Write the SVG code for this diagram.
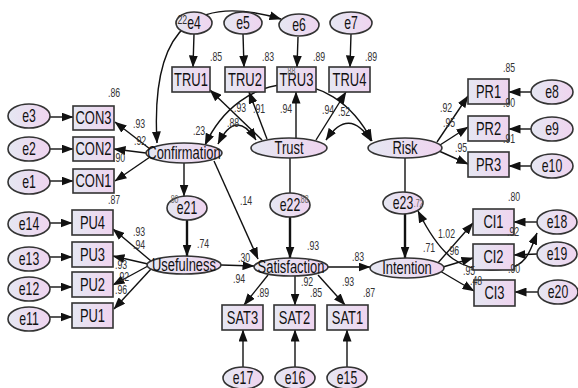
<svg xmlns="http://www.w3.org/2000/svg" width="578" height="388" viewBox="0 0 578 388">
<defs>
<linearGradient id="g" x1="0" y1="0" x2="1" y2="0"><stop offset="0" stop-color="#e5e7f2"/><stop offset="1" stop-color="#efd4ef"/></linearGradient>
<marker id="a" markerUnits="userSpaceOnUse" markerWidth="12" markerHeight="9" refX="11.5" refY="4.5" orient="auto-start-reverse"><path d="M0,0 L12,4.5 L0,9 z" fill="#111"/></marker>
</defs>
<style>
rect, ellipse {fill:url(#g); stroke:#333; stroke-width:1.6}
#connectors line, #connectors path {stroke:#111; stroke-width:1.4; fill:none}
#connectors .k {stroke-width:2.4}
text {font-family:"Liberation Sans", Arial, sans-serif; transform:scale(0.7,1)}
.t {font-size:18.5px; fill:#111; text-anchor:middle}
.e {font-size:17.5px; fill:#111; text-anchor:middle}
.l {font-size:12.5px; fill:#333}
.s {font-size:10px; fill:#666}
</style>
<g id="connectors">
<g marker-end="url(#a)">
<line x1="194" y1="34" x2="193" y2="67"/>
<line x1="243" y1="34" x2="244" y2="67"/>
<line x1="298" y1="37" x2="297" y2="67"/>
<line x1="351" y1="34" x2="350" y2="67"/>
<line x1="262" y1="140" x2="210" y2="90"/>
<line x1="267" y1="139" x2="249" y2="92"/>
<line x1="296" y1="138" x2="296" y2="92"/>
<line x1="316" y1="140" x2="346" y2="92"/>
<line x1="150" y1="149" x2="115" y2="122"/>
<line x1="146" y1="153" x2="114" y2="149"/>
<line x1="150" y1="157" x2="115" y2="181"/>
<line x1="50" y1="117" x2="73" y2="117"/>
<line x1="50" y1="149" x2="73" y2="149"/>
<line x1="50" y1="181" x2="73" y2="181"/>
<line x1="151" y1="261" x2="113" y2="229"/>
<line x1="148" y1="264" x2="113" y2="256"/>
<line x1="148" y1="266" x2="113" y2="285"/>
<line x1="151" y1="269" x2="114" y2="309"/>
<line x1="50" y1="223" x2="72" y2="223"/>
<line x1="50" y1="257" x2="72" y2="257"/>
<line x1="50" y1="287" x2="72" y2="287"/>
<line x1="50" y1="317" x2="72" y2="317"/>
<line x1="437" y1="142" x2="468" y2="96"/>
<line x1="440" y1="145" x2="468" y2="127"/>
<line x1="439" y1="151" x2="468" y2="164"/>
<line x1="531" y1="92" x2="509" y2="92"/>
<line x1="531" y1="129" x2="509" y2="129"/>
<line x1="531" y1="166" x2="509" y2="166"/>
<line x1="437" y1="264" x2="473" y2="223"/>
<line x1="443" y1="267" x2="473" y2="258"/>
<line x1="440" y1="271" x2="474" y2="291"/>
<line x1="537" y1="222" x2="514" y2="222"/>
<line x1="537" y1="254" x2="514" y2="255"/>
<line x1="538" y1="292" x2="515" y2="292"/>
<line x1="268" y1="275" x2="244" y2="305"/>
<line x1="295" y1="276" x2="295" y2="305"/>
<line x1="318" y1="275" x2="345" y2="305"/>
<line x1="243" y1="367" x2="243" y2="330"/>
<line x1="295" y1="367" x2="295" y2="330"/>
<line x1="347" y1="367" x2="347" y2="330"/>
<line x1="184" y1="163" x2="184" y2="196"/>
<line class="k" x1="187" y1="220" x2="187" y2="256"/>
<line x1="214" y1="161" x2="258" y2="259"/>
<line x1="221" y1="265" x2="254" y2="266"/>
<line class="k" x1="290" y1="217" x2="290" y2="258"/>
<line class="k" x1="405" y1="214" x2="405" y2="258"/>
<line x1="328" y1="267" x2="370" y2="267"/>
</g>
<line x1="290" y1="158" x2="290" y2="193"/>
<line x1="405" y1="158" x2="405" y2="192"/>
<g marker-start="url(#a)" marker-end="url(#a)">
<path d="M218,144 Q236,108 256,140"/>
<path d="M205,145 C240,70 330,60 372,141"/>
<path d="M326,140 Q349,106 371,141"/>
<path d="M157,143 C150,20 200,-5 281,19"/>
<path d="M418,211 C440,255 460,275 505,269 C528,266 531,248 537,233"/>
</g>
</g>
<g id="e4"><ellipse cx="194" cy="23" rx="18" ry="11"/><text class="e" x="277.14" y="29">e4</text></g>
<g id="e5"><ellipse cx="243" cy="23" rx="19" ry="11"/><text class="e" x="347.14" y="29">e5</text></g>
<g id="e6"><ellipse cx="299" cy="25" rx="20" ry="11"/><text class="e" x="427.14" y="31">e6</text></g>
<g id="e7"><ellipse cx="351" cy="23" rx="21" ry="11"/><text class="e" x="501.43" y="29">e7</text></g>
<g id="TRU1"><rect x="172" y="67" width="38" height="25"/><text class="t" x="272.86" y="86">TRU1</text></g>
<g id="TRU2"><rect x="225" y="67" width="40" height="25"/><text class="t" x="350" y="86">TRU2</text></g>
<g id="TRU3"><rect x="277" y="67" width="39" height="25"/><text class="t" x="423.57" y="86">TRU3</text></g>
<g id="TRU4"><rect x="329" y="67" width="41" height="25"/><text class="t" x="499.29" y="86">TRU4</text></g>
<g id="e3"><ellipse cx="29" cy="116" rx="21" ry="12"/><text class="e" x="41.43" y="122">e3</text></g>
<g id="e2"><ellipse cx="29" cy="149" rx="21" ry="12"/><text class="e" x="41.43" y="155">e2</text></g>
<g id="e1"><ellipse cx="29" cy="182" rx="21" ry="12"/><text class="e" x="41.43" y="188">e1</text></g>
<g id="CON3"><rect x="73" y="106" width="41" height="24"/><text class="t" x="133.57" y="124">CON3</text></g>
<g id="CON2"><rect x="73" y="137" width="41" height="24"/><text class="t" x="133.57" y="155">CON2</text></g>
<g id="CON1"><rect x="73" y="169" width="41" height="24"/><text class="t" x="133.57" y="187">CON1</text></g>
<g id="e14"><ellipse cx="29" cy="224" rx="21" ry="12"/><text class="e" x="41.43" y="230">e14</text></g>
<g id="e13"><ellipse cx="29" cy="259" rx="21" ry="12"/><text class="e" x="41.43" y="265">e13</text></g>
<g id="e12"><ellipse cx="29" cy="289" rx="21" ry="12"/><text class="e" x="41.43" y="295">e12</text></g>
<g id="e11"><ellipse cx="29" cy="319" rx="21" ry="12"/><text class="e" x="41.43" y="325">e11</text></g>
<g id="PU4"><rect x="72" y="210" width="41" height="25"/><text class="t" x="132.14" y="229">PU4</text></g>
<g id="PU3"><rect x="72" y="242" width="41" height="25"/><text class="t" x="132.14" y="261">PU3</text></g>
<g id="PU2"><rect x="72" y="272" width="41" height="25"/><text class="t" x="132.14" y="291">PU2</text></g>
<g id="PU1"><rect x="72" y="303" width="41" height="25"/><text class="t" x="132.14" y="322">PU1</text></g>
<g id="Confirmation"><ellipse cx="184" cy="153" rx="38" ry="10"/><text class="t" x="262.86" y="159">Confirmation</text></g>
<g id="Trust"><ellipse cx="289" cy="148" rx="38" ry="10"/><text class="t" x="412.86" y="154">Trust</text></g>
<g id="Risk"><ellipse cx="405" cy="148" rx="37" ry="10"/><text class="t" x="578.57" y="154">Risk</text></g>
<g id="PR1"><rect x="468" y="79" width="41" height="25"/><text class="t" x="697.86" y="98">PR1</text></g>
<g id="PR2"><rect x="468" y="116" width="41" height="25"/><text class="t" x="697.86" y="135">PR2</text></g>
<g id="PR3"><rect x="468" y="152" width="41" height="25"/><text class="t" x="697.86" y="171">PR3</text></g>
<g id="e8"><ellipse cx="552" cy="92" rx="21" ry="12"/><text class="e" x="788.57" y="98">e8</text></g>
<g id="e9"><ellipse cx="552" cy="129" rx="21" ry="12"/><text class="e" x="788.57" y="135">e9</text></g>
<g id="e10"><ellipse cx="552" cy="166" rx="21" ry="12"/><text class="e" x="788.57" y="172">e10</text></g>
<g id="e21"><ellipse cx="187" cy="208" rx="20" ry="12"/><text class="e" x="267.14" y="214">e21</text></g>
<g id="e22"><ellipse cx="290" cy="205" rx="20" ry="12"/><text class="e" x="414.29" y="211">e22</text></g>
<g id="e23"><ellipse cx="403" cy="203" rx="20" ry="11"/><text class="e" x="575.71" y="209">e23</text></g>
<g id="Usefulness"><ellipse cx="184" cy="265" rx="37" ry="9"/><text class="t" x="262.86" y="271">Usefulness</text></g>
<g id="Satisfaction"><ellipse cx="291" cy="267" rx="37" ry="9"/><text class="t" x="415.71" y="273">Satisfaction</text></g>
<g id="Intention"><ellipse cx="407" cy="268" rx="37" ry="10"/><text class="t" x="581.43" y="274">Intention</text></g>
<g id="CI1"><rect x="473" y="209" width="41" height="26"/><text class="t" x="705" y="228">CI1</text></g>
<g id="CI2"><rect x="473" y="244" width="41" height="26"/><text class="t" x="705" y="263">CI2</text></g>
<g id="CI3"><rect x="474" y="280" width="41" height="26"/><text class="t" x="706.43" y="299">CI3</text></g>
<g id="e18"><ellipse cx="557" cy="222" rx="20" ry="12"/><text class="e" x="795.71" y="228">e18</text></g>
<g id="e19"><ellipse cx="557" cy="254" rx="20" ry="12"/><text class="e" x="795.71" y="260">e19</text></g>
<g id="e20"><ellipse cx="558" cy="292" rx="20" ry="12"/><text class="e" x="797.14" y="298">e20</text></g>
<g id="SAT3"><rect x="222" y="305" width="41" height="25"/><text class="t" x="346.43" y="324">SAT3</text></g>
<g id="SAT2"><rect x="274" y="305" width="41" height="25"/><text class="t" x="420.71" y="324">SAT2</text></g>
<g id="SAT1"><rect x="327" y="305" width="41" height="25"/><text class="t" x="496.43" y="324">SAT1</text></g>
<g id="e17"><ellipse cx="243" cy="378" rx="20" ry="11"/><text class="e" x="347.14" y="384">e17</text></g>
<g id="e16"><ellipse cx="295" cy="378" rx="20" ry="11"/><text class="e" x="421.43" y="384">e16</text></g>
<g id="e15"><ellipse cx="347" cy="378" rx="20" ry="11"/><text class="e" x="495.71" y="384">e15</text></g>
<g id="labels">
<text class="l" x="250" y="24">.22</text>
<text class="l" x="300" y="61">.85</text>
<text class="l" x="374.29" y="61">.83</text>
<text class="l" x="447.14" y="61">.89</text>
<text class="l" x="521.43" y="61">.89</text>
<text class="s" x="408" y="75">.88</text>
<text class="l" x="154.29" y="97">.86</text>
<text class="l" x="190" y="128">.93</text>
<text class="l" x="191.43" y="145">.92</text>
<text class="l" x="161.43" y="162">.90</text>
<text class="l" x="154.29" y="204">.87</text>
<text class="l" x="190" y="236">.93</text>
<text class="l" x="190" y="249">.94</text>
<text class="l" x="164.29" y="269">.93</text>
<text class="l" x="167.14" y="281">.92</text>
<text class="l" x="164.29" y="294">.96</text>
<text class="l" x="275.71" y="135">.23</text>
<text class="l" x="324.29" y="127">.88</text>
<text class="l" x="334.29" y="112">.93</text>
<text class="l" x="361.43" y="113">.91</text>
<text class="l" x="400" y="113">.94</text>
<text class="l" x="460" y="114">.94</text>
<text class="l" x="482.86" y="116">.52</text>
<text class="l" x="718.57" y="72">.85</text>
<text class="l" x="718.57" y="107">.90</text>
<text class="l" x="628.57" y="112">.92</text>
<text class="l" x="632.86" y="127">.95</text>
<text class="l" x="718.57" y="143">.91</text>
<text class="l" x="650" y="152">.95</text>
<text class="l" x="725.71" y="201">.80</text>
<text class="l" x="625.71" y="238">1.02</text>
<text class="l" x="724.29" y="236">.92</text>
<text class="l" x="604.29" y="252">.71</text>
<text class="l" x="638.57" y="255">.96</text>
<text class="l" x="661.43" y="275">.95</text>
<text class="l" x="725.71" y="273">.90</text>
<text class="l" x="671.43" y="285">.48</text>
<text class="s" x="591" y="207">.72</text>
<text class="l" x="281.43" y="248">.74</text>
<text class="l" x="438.57" y="250">.93</text>
<text class="l" x="340" y="262">.30</text>
<text class="l" x="502.86" y="261">.83</text>
<text class="l" x="332.86" y="283">.94</text>
<text class="l" x="367.14" y="297">.89</text>
<text class="l" x="430" y="286">.92</text>
<text class="l" x="442.86" y="297">.85</text>
<text class="l" x="488.57" y="286">.93</text>
<text class="l" x="518.57" y="297">.87</text>
<text class="l" x="342.86" y="205">.14</text>
<text class="s" x="241" y="203">.80</text>
<text class="s" x="427" y="203">.88</text>
</g>
</svg>
